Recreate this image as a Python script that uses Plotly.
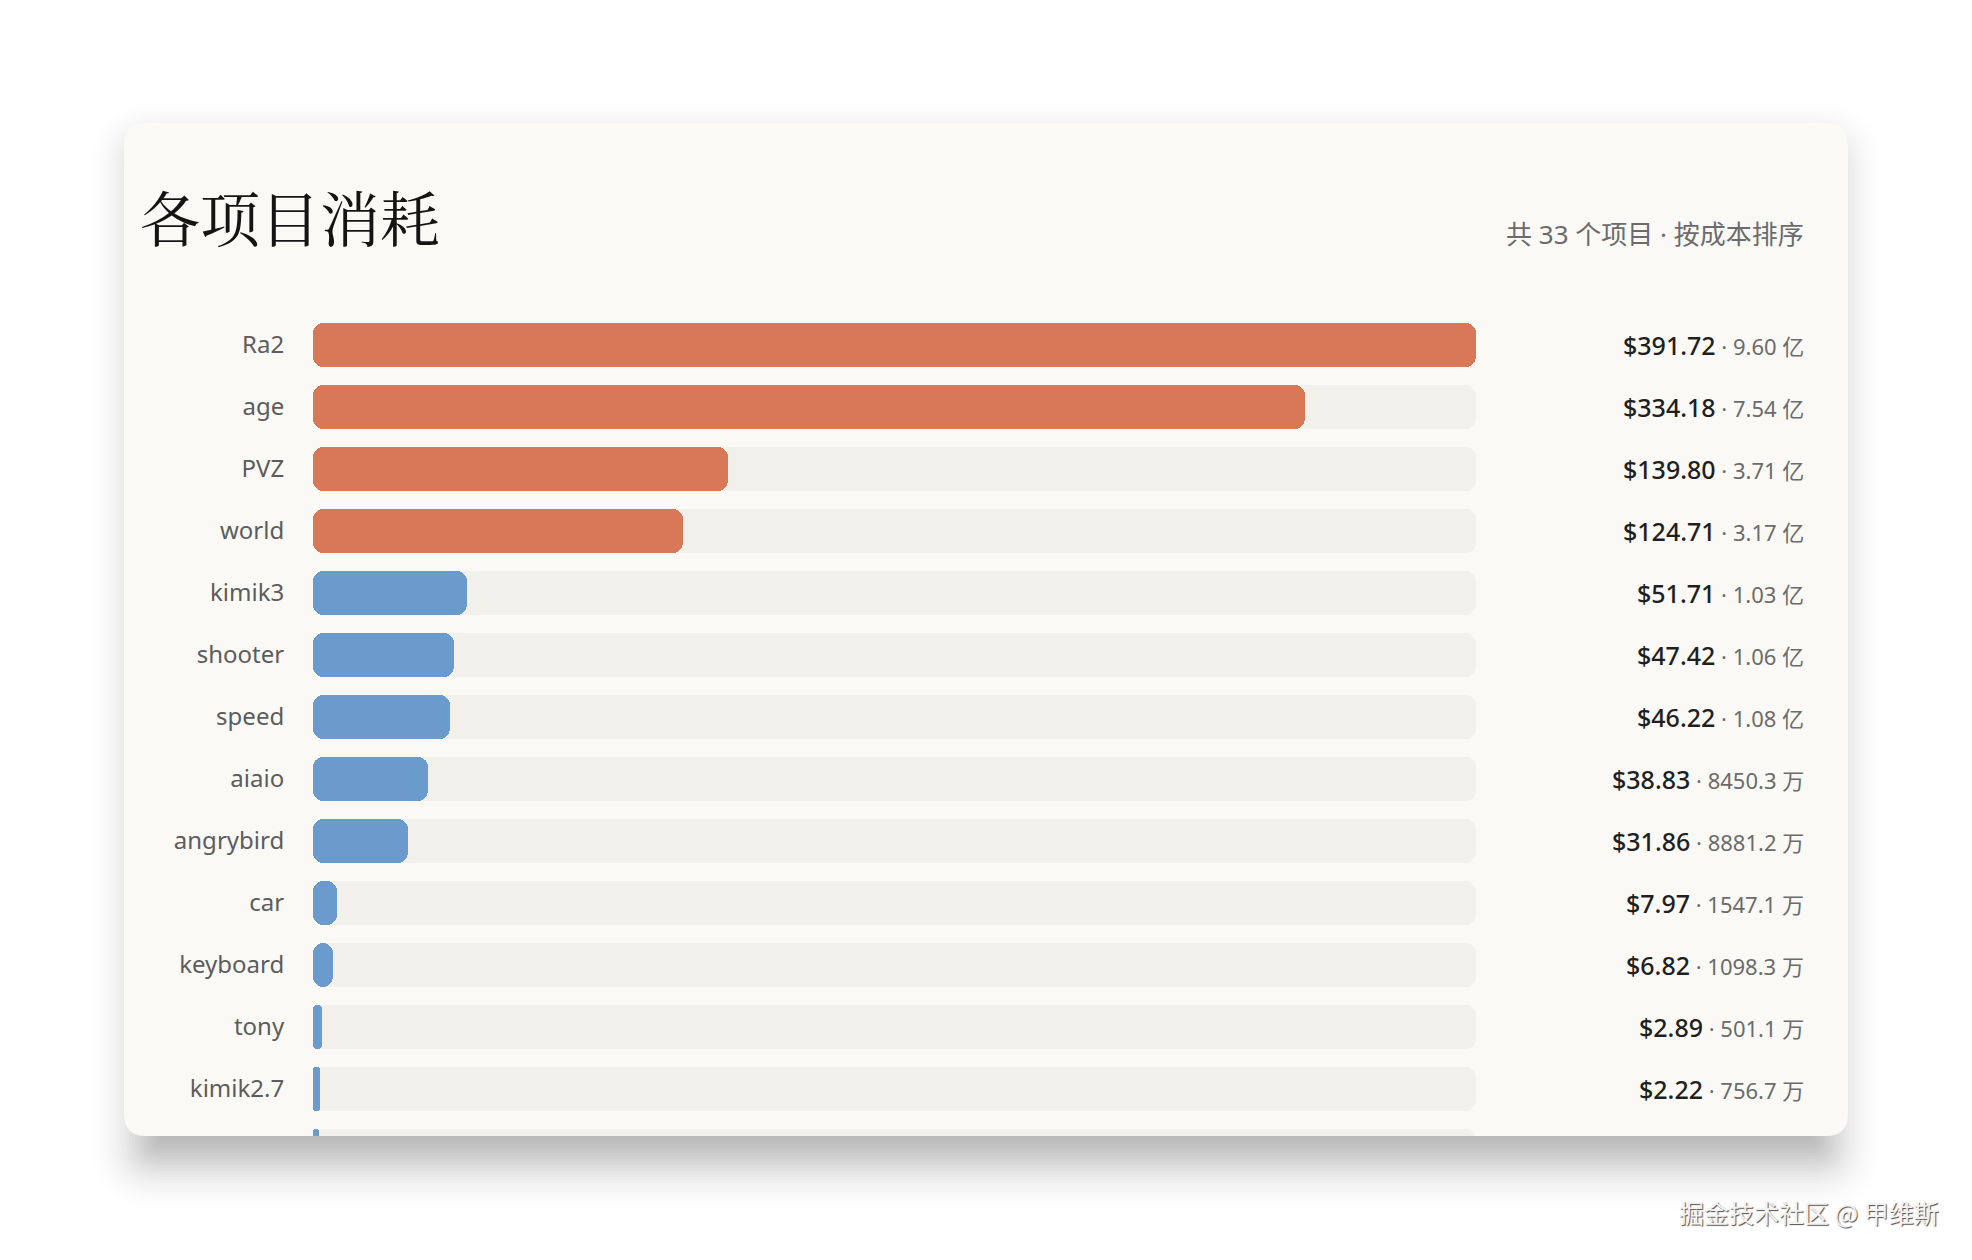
import math
import plotly.graph_objects as go

# 数据
projects = ["Ra2", "age", "PVZ", "world", "kimik3", "shooter", "speed",
            "aiaio", "angrybird", "car", "keyboard", "tony", "kimik2.7", ""]
costs = [391.72, 334.18, 139.80, 124.71, 51.71, 47.42, 46.22,
         38.83, 31.86, 7.97, 6.82, 2.89, 2.22, 1.9]
tokens = ["9.60 亿", "7.54 亿", "3.71 亿", "3.17 亿", "1.03 亿", "1.06 亿", "1.08 亿",
          "8450.3 万", "8881.2 万", "1547.1 万", "1098.3 万", "501.1 万", "756.7 万", None]

title = "各项目消耗"
subtitle = "共 33 个项目 · 按成本排序"
watermark = "掘金技术社区 @ 甲维斯"

W, H = 1972, 1260
OFF = 8  # 页面 body 的默认外边距
ORANGE = "#d97857"
BLUE = "#6a9bcc"
TRACK = "#f2f0ea"
CARD = "#faf9f6"


def px_x(x):
    return (x - OFF) / W


def px_y(y):
    return 1 - (y - OFF) / H


def rounded_rect(x0, y0, x1, y1, r):
    # 圆角矩形路径（像素 -> paper 坐标）
    def p(x, y):
        return f"{px_x(x):.5f},{px_y(y):.5f}"
    return (f"M {p(x0 + r, y0)} L {p(x1 - r, y0)} Q {p(x1, y0)} {p(x1, y0 + r)} "
            f"L {p(x1, y1 - r)} Q {p(x1, y1)} {p(x1 - r, y1)} "
            f"L {p(x0 + r, y1)} Q {p(x0, y1)} {p(x0, y1 - r)} "
            f"L {p(x0, y0 + r)} Q {p(x0, y0)} {p(x0 + r, y0)} Z")


card = (124, 123, 1848, 1136)
n = len(projects)
ys = list(range(n))
vmax = max(costs)
bar_colors = [ORANGE if c > 100 else BLUE for c in costs]

fig = go.Figure()

# 背景轨道（给定 base 后两端都是圆角）
fig.add_trace(go.Bar(
    y=ys, x=[vmax] * n, base=[0] * n, orientation="h", width=0.71,
    marker=dict(color=TRACK, cornerradius=10, line_width=0),
    hoverinfo="skip", showlegend=False,
))
# 实际消耗
fig.add_trace(go.Bar(
    y=ys, x=costs, base=[0] * n, orientation="h", width=0.71,
    marker=dict(color=bar_colors, cornerradius=10, line_width=0),
    customdata=projects,
    hovertemplate="%{customdata}: $%{x:.2f}<extra></extra>",
    showlegend=False,
))

shapes = []
# 阴影：下移的矩形，按高斯权重多层叠加近似模糊
sigma, dy, inset = 24, 26, 14
steps = list(range(-66, 67, 3))
weights = [math.exp(-e * e / (2 * sigma * sigma)) for e in steps]
scale = 0.32 / sum(weights)
for e, w in zip(steps, weights):
    shapes.append(dict(
        type="path", xref="paper", yref="paper", layer="below",
        path=rounded_rect(card[0] + inset - e, card[1] + dy - e,
                          card[2] - inset + e, card[3] + dy + e, max(2, 22 + e)),
        fillcolor=f"rgba(0,0,0,{w * scale:.5f})", line_width=0,
    ))
# 卡片
shapes.append(dict(
    type="path", xref="paper", yref="paper", layer="below",
    path=rounded_rect(*card, 22), fillcolor=CARD, line_width=0,
))

annotations = [
    dict(text=title, x=px_x(138), y=px_y(216), xref="paper", yref="paper",
         xanchor="left", yanchor="middle", showarrow=False,
         font=dict(family="Noto Serif CJK SC, Noto Sans CJK SC", size=60, color="#141414")),
    dict(text=subtitle, x=px_x(1806), y=px_y(234), xref="paper", yref="paper",
         xanchor="right", yanchor="middle", showarrow=False,
         font=dict(family="Noto Sans, Noto Sans CJK SC", size=26, color="#6b6b6b")),
    dict(text=watermark, x=px_x(1941), y=px_y(1212), xref="paper", yref="paper",
         xanchor="right", yanchor="middle", showarrow=False,
         font=dict(family="Noto Sans CJK SC", size=25, color="#f2f2f2",
                   shadow="1px 1px 1px rgba(0,0,0,0.7)")),
]
for i, (c, t) in enumerate(zip(costs, tokens)):
    if t is None:
        continue
    annotations.append(dict(
        text=(f"<span style='font-size:25px;color:#1f1f1f;font-weight:500'>${c:.2f}</span>"
              f"<span style='font-size:22px;color:#6b6b6b'> · {t}</span>"),
        x=px_x(1806), y=i, xref="paper", yref="y",
        xanchor="right", yanchor="middle", showarrow=False,
        font=dict(family="Noto Sans, Noto Sans CJK SC", size=25),
    ))

fig.update_layout(
    width=W, height=H,
    margin=dict(l=0, r=0, t=0, b=0),
    paper_bgcolor="white", plot_bgcolor="rgba(0,0,0,0)",
    barmode="overlay", bargap=0,
    shapes=shapes, annotations=annotations,
    xaxis=dict(domain=[px_x(313), px_x(1476)], range=[0, vmax],
               visible=False, fixedrange=True),
    yaxis=dict(domain=[px_y(1136), px_y(300)],
               range=[(1136 - 345) / 62, (300 - 345) / 62],
               tickvals=ys, ticktext=projects,
               ticks="outside", ticklen=23, tickcolor="rgba(0,0,0,0)",
               tickfont=dict(family="Noto Sans, Noto Sans CJK SC", size=24, color="#5c5c5c"),
               showgrid=False, zeroline=False, showline=False, fixedrange=True),
    font=dict(family="Noto Sans, Noto Sans CJK SC"),
)

fig.write_html("out.html")
